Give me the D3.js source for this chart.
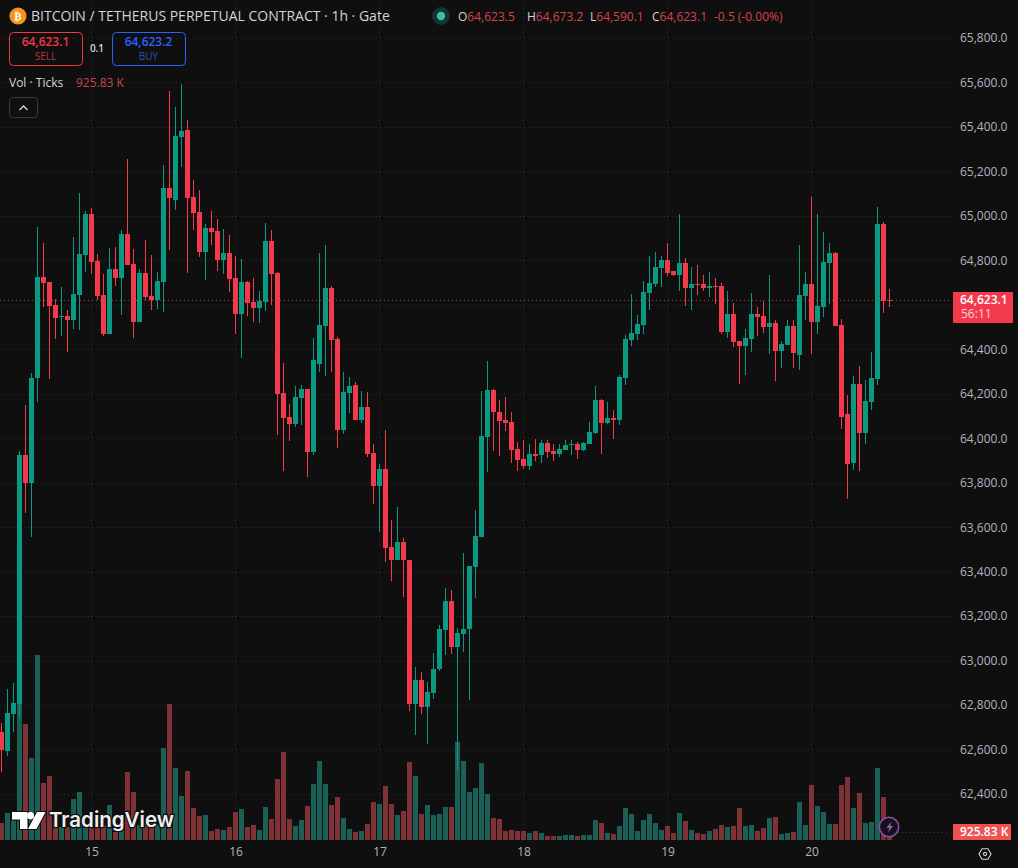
<!DOCTYPE html>
<html>
<head>
<meta charset="utf-8">
<title>BTC/USDT perpetual 1h</title>
<script src="https://cdn.jsdelivr.net/npm/d3@7/dist/d3.min.js"></script>
<style>
html,body{margin:0;padding:0;background:#0f0f0f;overflow:hidden}
svg{display:block}
text{font-family:"Open Sans","Noto Sans",sans-serif}
</style>
</head>
<body>
<svg id="chart" width="1018" height="868"></svg>
<script>
// Hourly candles, oldest first; the last bar is the one still forming.
const opens = [62679,62593,62760,62805,63924,63798,64271,64725,64703,64599,64545,64550,64532,64644,64824,65009,64797,64644,64469,64761,64721,64919,64784,64523,64743,64640,64622,64703,65125,65072,65354,65386,65084,65018,64838,64946,64932,64802,64833,64721,64559,64703,64613,64586,64613,64887,64743,64203,64095,64064,64181,64221,63938,64334,64505,64676,64446,64037,64203,64239,64082,64140,63933,63785,63861,63510,63452,63533,63452,62805,62913,62791,62854,62962,63138,63268,63061,63120,63142,63420,63555,64005,64217,64118,64082,64073,63951,63906,63875,63929,63924,63978,63942,63929,63947,63969,63974,63947,63974,64023,64172,64068,64091,64082,64271,64442,64469,64509,64653,64694,64766,64802,64752,64734,64788,64676,64694,64694,64676,64685,64685,64478,64559,64437,64415,64446,64559,64550,64500,64518,64392,64419,64505,64374,64640,64694,64523,64590,64788,64833,64509,64109,63888,64244,64023,64163,64266,64964,64623.5];
const highs = [62719,62872,62899,63942,64149,64293,64950,64878,64703,64626,64680,64577,64905,65102,65022,65036,64829,64739,64856,64860,64937,65255,64851,64761,64892,64824,64748,65228,65561,65489,65593,65431,65161,65116,64964,65022,64986,64941,64914,64820,64806,64707,64721,64662,64968,64937,64748,64338,64154,64235,64239,64221,64451,64833,64869,64685,64455,64298,64275,64253,64212,64208,63974,63884,64037,63632,63690,63551,63452,62971,62949,62904,63034,63160,63326,63317,63147,63483,63425,63677,64212,64347,64221,64172,64185,64118,63983,63992,63974,63996,63992,63992,63974,63974,63992,63992,63983,63983,64073,64235,64176,64163,64127,64284,64464,64649,64554,64707,64820,64838,64820,64878,64752,65009,64811,64770,64779,64734,64748,64721,64698,64662,64608,64437,64491,64653,64590,64617,64734,64532,64437,64532,64532,64869,64748,65084,65009,64928,64878,64838,64536,64194,64280,64325,64262,64388,65040,64973,64673.2];
const lows = [62499,62571,62679,62746,63663,63555,64163,64590,64266,64446,64460,64388,64491,64487,64748,64739,64622,64460,64469,64685,64554,64779,64451,64523,64622,64577,64581,64568,64847,65027,65219,64743,64937,64815,64712,64869,64752,64739,64658,64469,64361,64550,64523,64518,64572,64599,64014,63852,63987,64050,64059,63825,63924,64298,64280,64298,63956,64019,64113,64082,64068,63915,63704,63578,63443,63357,63452,63285,62773,62665,62760,62625,62827,62953,63025,63030,62508,63039,62823,63281,63555,63848,63942,63920,64032,63888,63852,63861,63857,63897,63888,63911,63897,63915,63947,63924,63906,63942,63974,64019,63929,64064,63996,64059,64239,64415,64442,64469,64577,64680,64680,64730,64730,64662,64595,64577,64644,64662,64635,64604,64469,64451,64410,64244,64284,64388,64460,64473,64379,64257,64316,64419,64316,64307,64532,64379,64469,64545,64604,64505,64041,63726,63857,63852,63974,64127,64239,64563,64590.1];
const closes = [62598,62764,62809,63924,63798,64271,64725,64698,64595,64541,64550,64532,64649,64829,65009,64793,64640,64469,64761,64721,64919,64779,64523,64743,64635,64622,64707,65125,65080,65359,65381,65080,65013,64838,64946,64928,64802,64833,64716,64559,64703,64608,64586,64617,64887,64739,64199,64091,64064,64185,64221,63938,64352,64509,64676,64442,64037,64208,64235,64082,64140,63929,63785,63861,63506,63452,63533,63452,62805,62913,62791,62859,62962,63142,63268,63061,63124,63142,63425,63560,64010,64217,64118,64077,64068,63947,63902,63875,63929,63920,63978,63938,63929,63951,63969,63974,63947,63978,64028,64172,64068,64091,64082,64275,64446,64473,64514,64658,64698,64770,64802,64743,64734,64788,64676,64694,64689,64676,64685,64680,64478,64559,64433,64415,64451,64559,64545,64500,64518,64392,64424,64505,64383,64644,64694,64523,64595,64793,64833,64505,64095,63884,64244,64023,64167,64271,64964,64617,64623.1];
// Tick volume per hour, in thousands.
const volumes = [1972,3132,2668,15892,13456,9512,21460,6612,7424,2320,1508,1508,4756,5568,1392,1392,1392,1740,4060,928,1508,7888,5568,1740,1972,1972,1740,10672,15776,8352,5104,8004,3712,2784,2900,1044,1276,1160,1508,3248,3596,1508,1740,1160,3828,2436,7076,10208,2436,1624,2320,3944,6496,9164,6496,4060,4988,2552,1276,928,1044,1856,4408,4176,6264,4176,2900,3364,9048,7424,3016,4060,2900,3016,3828,3828,11368,9164,5568,6032,8932,5336,2552,2436,1044,1160,1044,1044,812,1044,812,464,464,464,580,580,464,580,580,2320,1972,812,696,1624,3712,3016,1044,2320,3016,1972,1160,1624,812,3132,2204,1160,812,696,1044,1276,1740,1508,1624,3712,1624,1740,1044,1392,2552,2668,696,812,928,4408,1740,6380,3944,3248,1856,1856,6380,7308,3712,5452,1972,2088,8352,4988,925.83];

const priceTicks = [62400,62600,62800,63000,63200,63400,63600,63800,64000,64200,64400,64600,64800,65000,65200,65400,65600,65800];
const dayLabels = ["15","16","17","18","19","20"];
const dayStarts = [15,39,63,87,111,135];
const lastPrice = 64623.1;
const lastVolume = 925.83;
const legendFields = [["O","64,623.5",458],["H","64,673.2",527],["L","64,590.1",590],["C","64,623.1",652]];

const UP = "#0b9a81", DOWN = "#f23a4c";
const UP_VOL = "#1c5f56", DOWN_VOL = "#7e3236";
const GRID = "#2e2e2e", AXIS_TEXT = "#b2b5be";
const FONT = '"Open Sans","Noto Sans",sans-serif';

const svg = d3.select("#chart");
svg.append("rect").attr("width",1018).attr("height",868).attr("fill","#0f0f0f");

const x = d3.scaleLinear().domain([0, 148]).range([1.5, 889.5]);
const y = d3.scaleLinear().domain([65800, 62400]).range([38, 794]);
const v = d3.scaleLinear().domain([0, 24000]).range([840, 840 - 24000 / 116]);
const candles = d3.range(opens.length).map(i => ({i, o:opens[i], h:highs[i], l:lows[i], c:closes[i], vol:volumes[i]}));
const BODY = 5;

// Dotted grid
const grid = svg.append("g").attr("shape-rendering","crispEdges").attr("stroke",GRID).attr("stroke-dasharray","1 3");
grid.selectAll(".h").data(priceTicks).join("line").attr("class","h")
  .attr("x1",0).attr("x2",950).attr("y1",d=>Math.round(y(d))+.5).attr("y2",d=>Math.round(y(d))+.5);
grid.selectAll(".v").data(dayStarts).join("line").attr("class","v")
  .attr("x1",d=>Math.floor(x(d))+.5).attr("x2",d=>Math.floor(x(d))+.5).attr("y1",0).attr("y2",840);

// Volume histogram sits beneath the candles
svg.append("g").attr("shape-rendering","crispEdges").selectAll("rect").data(candles).join("rect")
  .attr("x",d=>x(d.i)-BODY/2).attr("width",BODY)
  .attr("y",d=>Math.round(v(d.vol))).attr("height",d=>840-Math.round(v(d.vol)))
  .attr("fill",d=>d.c>=d.o?UP_VOL:DOWN_VOL);

// Candles: wick first, body on top
const cg = svg.append("g").attr("shape-rendering","crispEdges").selectAll("g").data(candles).join("g");
cg.append("line").attr("x1",d=>x(d.i)).attr("x2",d=>x(d.i))
  .attr("y1",d=>Math.round(y(d.h))).attr("y2",d=>Math.round(y(d.l)))
  .attr("stroke",d=>d.c>=d.o?UP:DOWN).attr("stroke-width",1);
cg.append("rect").attr("x",d=>x(d.i)-BODY/2).attr("width",BODY)
  .attr("y",d=>Math.round(y(Math.max(d.o,d.c))))
  .attr("height",d=>Math.max(1,Math.round(y(Math.min(d.o,d.c)))-Math.round(y(Math.max(d.o,d.c)))))
  .attr("fill",d=>d.c>=d.o?UP:DOWN);

// Last-price guide lines
svg.append("line").attr("x1",0).attr("x2",950).attr("y1",Math.round(y(lastPrice))+.5).attr("y2",Math.round(y(lastPrice))+.5)
  .attr("stroke","#a83a46").attr("stroke-dasharray","1 3").attr("shape-rendering","crispEdges");
svg.append("line").attr("x1",890).attr("x2",950).attr("y1",v(lastVolume)+.5).attr("y2",v(lastVolume)+.5)
  .attr("stroke","#5a3034").attr("stroke-dasharray","1 3").attr("shape-rendering","crispEdges");

// Axes
const priceAxis = d3.axisRight(y).tickValues(priceTicks).tickSize(0).tickPadding(0)
  .tickFormat(d=>d3.format(",.1f")(d));
const ay = svg.append("g").attr("transform","translate(960,0)").call(priceAxis);
ay.select(".domain").remove();
ay.selectAll("text").attr("fill",AXIS_TEXT).attr("font-size",12).style("font-family",FONT);

const dayAxis = d3.axisBottom(x).tickValues(dayStarts).tickSize(0).tickPadding(0)
  .tickFormat((d,i)=>dayLabels[i]);
const ax = svg.append("g").attr("transform","translate(0,847)").call(dayAxis);
ax.select(".domain").remove();
ax.selectAll("text").attr("fill",AXIS_TEXT).attr("font-size",12).style("font-family",FONT);

// Price and volume tags on the right scale
svg.append("rect").attr("x",953).attr("y",292).attr("width",60).attr("height",31).attr("rx",1).attr("fill","#f23a4c");
svg.append("text").attr("x",960).attr("y",304).attr("fill","#fff").attr("font-size",12).attr("font-weight",600).text(d3.format(",.1f")(lastPrice));
svg.append("text").attr("x",961).attr("y",318).attr("fill","#ffd5d9").attr("font-size",12).text("56:11");
svg.append("rect").attr("x",953).attr("y",824).attr("width",58).attr("height",16).attr("fill","#ef5350");
svg.append("text").attr("x",960).attr("y",836).attr("fill","#fff").attr("font-size",12).attr("font-weight",600).text("925.83 K");

// Settings glyph
svg.append("path").attr("d","M979 854l3-5.2h6l3 5.2-3 5.2h-6z").attr("fill","none").attr("stroke","#d1d4dc").attr("stroke-width",1.1);
svg.append("circle").attr("cx",985).attr("cy",854).attr("r",1.6).attr("fill","none").attr("stroke","#d1d4dc").attr("stroke-width",1.1);

// Header: symbol badge, title, status and OHLC read-out
svg.append("circle").attr("cx",18).attr("cy",16).attr("r",8.6).attr("fill","#f7931a");
svg.append("text").attr("x",18).attr("y",20).attr("text-anchor","middle").attr("fill","#fff").attr("font-size",11).attr("font-weight",700)
  .style("font-family","'DejaVu Sans'").text("₿");
svg.append("text").attr("x",31).attr("y",21).attr("fill","#d1d4dc").attr("font-size",14)
  .text("BITCOIN / TETHERUS PERPETUAL CONTRACT · 1h · Gate");
svg.append("circle").attr("cx",441).attr("cy",16).attr("r",9).attr("fill","#12352f");
svg.append("circle").attr("cx",441).attr("cy",16).attr("r",4.2).attr("fill","#3fbf9f");

legendFields.forEach(([k,val,px])=>{
  const t = svg.append("text").attr("x",px).attr("y",21).attr("font-size",12);
  t.append("tspan").attr("fill","#d1d4dc").text(k);
  t.append("tspan").attr("fill","#d9434f").text(val);
});
svg.append("text").attr("x",714).attr("y",21).attr("font-size",12).attr("fill","#d9434f").text("-0.5 (-0.00%)");

// Sell / buy quote boxes
const quotes = [["64,623.1","SELL",9,"#f23645","#f23645","#b93540"],["64,623.2","BUY",112,"#2962ff","#2962ff","#2f4fb3"]];
quotes.forEach(([price,label,bx,stroke,c1,c2])=>{
  svg.append("rect").attr("x",bx+.5).attr("y",32.5).attr("width",73).attr("height",33).attr("rx",4)
    .attr("fill","none").attr("stroke",stroke);
  svg.append("text").attr("x",bx+36.5).attr("y",46).attr("text-anchor","middle").attr("fill",c1).attr("font-size",12).attr("font-weight",600).text(price);
  svg.append("text").attr("x",bx+36.5).attr("y",60).attr("text-anchor","middle").attr("fill",c2).attr("font-size",10).text(label);
});
svg.append("text").attr("x",97).attr("y",52).attr("text-anchor","middle").attr("fill","#d1d4dc").attr("font-size",10).attr("font-weight",600).text("0.1");

// Volume study legend and collapse button
svg.append("text").attr("x",9).attr("y",87).attr("fill","#d1d4dc").attr("font-size",12).text("Vol · Ticks");
svg.append("text").attr("x",76).attr("y",87).attr("fill","#c4454f").attr("font-size",12).text("925.83 K");
svg.append("rect").attr("x",9.5).attr("y",97.5).attr("width",28).attr("height",20).attr("rx",3).attr("fill","none").attr("stroke","#3a3a3a");
svg.append("path").attr("d","M19.5 110l4-4 4 4").attr("fill","none").attr("stroke","#d1d4dc").attr("stroke-width",1.4);

// Brand mark
const mark = "M12 812h15.5v17h-7.5v-9.5h-8zM37 812l-9 17h8.5l9-17z";
const brand = svg.append("g");
brand.append("path").attr("d",mark).attr("fill","#fff").attr("stroke","#0f0f0f").attr("stroke-width",2).attr("paint-order","stroke");
brand.append("circle").attr("cx",30.5).attr("cy",815.7).attr("r",3.6).attr("fill","#fff");
brand.append("text").attr("x",49).attr("y",827).attr("font-size",20.5).attr("font-weight",600).attr("fill","#f0f0f0")
  .attr("stroke","#0f0f0f").attr("stroke-width",2.5).attr("paint-order","stroke").style("font-family","Inter,sans-serif").text("TradingView");

// Lightning badge next to the live bar
svg.append("circle").attr("cx",889).attr("cy",827).attr("r",9.7).attr("fill","#161018").attr("stroke","#8e4aa8").attr("stroke-width",1.6);
svg.append("path").attr("d","M891.5 821.5l-5 6.2h3l-1.6 4.8 5.2-6.4h-3z").attr("fill","#a45cc4");
</script>
</body>
</html>
